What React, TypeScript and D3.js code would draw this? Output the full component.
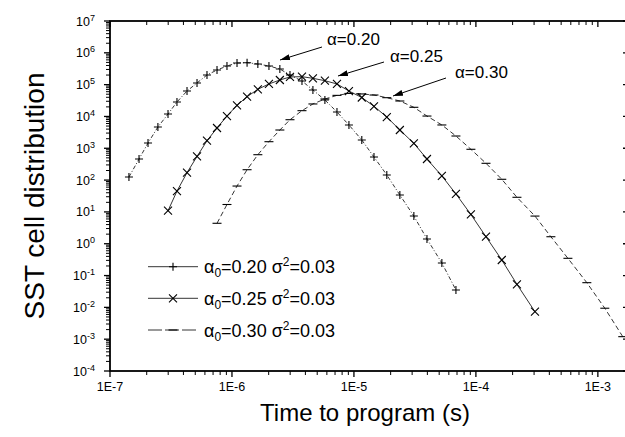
import React, { useEffect, useRef } from 'react';
import * as d3 from 'd3';

// time grid shared by the three simulated curves (s)
const timeGrid = [
  1.43e-7, 1.73e-7, 2.05e-7, 2.47e-7, 2.99e-7, 3.54e-7, 4.28e-7, 5.17e-7, 6.24e-7, 7.54e-7,
  9.10e-7, 1.10e-6, 1.33e-6, 1.63e-6, 2.01e-6, 2.47e-6, 2.99e-6, 3.75e-6, 4.61e-6, 5.78e-6,
  7.26e-6, 9.10e-6, 1.16e-5, 1.46e-5, 1.86e-5, 2.38e-5, 3.10e-5, 3.97e-5, 5.26e-5, 6.86e-5,
  9.10e-5, 1.21e-4, 1.63e-4, 2.17e-4, 3.05e-4, 4.12e-4, 5.68e-4, 8.12e-4, 1.14e-3, 1.60e-3
];

// alpha0 = 0.20 (starts at timeGrid[0])
const plusValues = [
  125, 460, 1465, 4670, 1.19e4, 2.85e4, 6.3e4, 1.13e5, 2.01e5, 2.88e5,
  3.85e5, 4.79e5, 4.9e5, 4.45e5, 3.85e5, 3.1e5, 2.0e5, 1.3e5, 6.8e4, 3.29e4,
  1.38e4, 5.4e3, 1.82e3, 532, 145, 34, 7.4, 1.41, 0.248, 0.035
];
// alpha0 = 0.25 (starts at timeGrid[4])
const crossValues = [
  10.9, 45, 171, 552, 1730, 4340, 1.03e4, 2.24e4, 4.18e4, 7.14e4,
  1.05e5, 1.4e5, 1.74e5, 1.78e5, 1.58e5, 1.33e5, 1.05e5, 6.3e4, 3.94e4, 2.09e4,
  9.6e3, 3750, 1430, 460, 135, 36.6, 8.3, 1.66, 0.308, 0.053, 0.0073
];
// alpha0 = 0.30 (starts at timeGrid[9])
const dashValues = [
  4.39, 17.1, 65, 212, 628, 1610, 3750, 7900, 1.52e4, 2.47e4,
  3.54e4, 4.6e4, 5.3e4, 5.1e4, 4.72e4, 3.89e4, 3.06e4, 1.94e4, 1.03e4, 5.4e3,
  2430, 929, 337, 106, 28.8, 7.4, 1.66, 0.348, 0.0597, 0.0094, 0.0012
];
const seriesStart = [0, 4, 9];

const alphaLabels = ['0.20', '0.25', '0.30'];
const sigmaLabel = '0.03';
const xExponents = [-7, -6, -5, -4, -3];
const yExponents = [-4, -3, -2, -1, 0, 1, 2, 3, 4, 5, 6, 7];

const W = 625, H = 437;
const P = { left: 110, right: 629, top: 21, bottom: 371 };
const FONT = "'Liberation Sans', Arial, Helvetica, sans-serif";

export default function App() {
  const ref = useRef<SVGSVGElement>(null);

  useEffect(() => {
    const svg = d3.select(ref.current);
    svg.selectAll('*').remove();

    const x = d3.scaleLog().domain([1e-7, 1.8e-3]).range([P.left, P.right]);
    const y = d3.scaleLog().domain([1e-4, 1e7]).range([P.bottom, P.top]);

    // arrow head
    svg.append('defs').append('marker')
      .attr('id', 'arrow')
      .attr('viewBox', '0 0 10 6')
      .attr('refX', 10).attr('refY', 3)
      .attr('markerWidth', 10).attr('markerHeight', 6)
      .attr('markerUnits', 'userSpaceOnUse')
      .attr('orient', 'auto')
      .append('path').attr('d', 'M0,0L10,3L0,6Z').attr('fill', '#000');

    // minor ticks
    const xMinor: number[] = [];
    xExponents.forEach(e => d3.range(2, 10).forEach(k => {
      const v = k * Math.pow(10, e);
      if (v <= 1.8e-3) xMinor.push(v);
    }));
    const yMinor: number[] = [];
    yExponents.slice(0, -1).forEach(e => d3.range(2, 10).forEach(k => yMinor.push(k * Math.pow(10, e))));
    const xMajor = xExponents.map(e => Math.pow(10, e));
    const yMajor = yExponents.map(e => Math.pow(10, e));

    const axes = svg.append('g').attr('stroke', '#000').attr('fill', 'none');
    const tick = (x1: number, y1: number, x2: number, y2: number, w = 1) =>
      axes.append('line').attr('x1', x1).attr('y1', y1).attr('x2', x2).attr('y2', y2).attr('stroke-width', w);

    // bottom (outward) and top (inward)
    xMajor.forEach(v => { tick(x(v), P.bottom, x(v), P.bottom + 6, 1.3); tick(x(v), P.top, x(v), P.top + 6, 1.3); });
    xMinor.forEach(v => { tick(x(v), P.bottom, x(v), P.bottom + 4); tick(x(v), P.top, x(v), P.top + 4); });
    // left (outward) and right (inward)
    yMajor.forEach(v => { tick(P.left, y(v), P.left - 6, y(v), 1.3); tick(P.right, y(v), P.right - 6, y(v), 1.3); });
    yMinor.forEach(v => { tick(P.left, y(v), P.left - 4, y(v)); tick(P.right, y(v), P.right - 4, y(v)); });

    axes.append('rect')
      .attr('x', P.left).attr('y', P.top)
      .attr('width', P.right - P.left).attr('height', P.bottom - P.top)
      .attr('stroke-width', 1.8);

    // tick labels
    const yl = svg.append('g').attr('font-family', FONT).attr('fill', '#000');
    yExponents.forEach(e => {
      const t = yl.append('text')
        .attr('x', 95).attr('y', y(Math.pow(10, e)) + 4.5)
        .attr('text-anchor', 'end').attr('font-size', 12.5);
      t.append('tspan').text('10');
      t.append('tspan').attr('font-size', 9).attr('dy', -5).text(String(e));
    });
    xExponents.forEach(e => {
      yl.append('text')
        .attr('x', x(Math.pow(10, e))).attr('y', 391)
        .attr('text-anchor', 'middle').attr('font-size', 12.5)
        .text(`1E${e}`);
    });

    // axis titles
    yl.append('text')
      .attr('x', 365).attr('y', 421)
      .attr('text-anchor', 'middle').attr('font-size', 24)
      .text('Time to program (s)');
    yl.append('text')
      .attr('transform', `translate(44,${(P.top + P.bottom) / 2}) rotate(-90)`)
      .attr('text-anchor', 'middle').attr('font-size', 28)
      .text('SST cell distribution');

    // series
    const allValues = [plusValues, crossValues, dashValues];
    const dashes = ['4,2,1,2', null, '5,3'];
    const symbols = ['M-4,0H4M0,-4V4', 'M-4,-4L4,4M-4,4L4,-4', 'M-4.5,0H4.5'];
    const line = d3.line<{ t: number; v: number }>().x(d => x(d.t)).y(d => y(d.v));

    allValues.forEach((vals, i) => {
      const pts = vals.map((v, j) => ({ t: timeGrid[seriesStart[i] + j], v }));
      const g = svg.append('g');
      g.append('path')
        .attr('d', line(pts))
        .attr('fill', 'none').attr('stroke', '#000').attr('stroke-width', 0.8)
        .attr('stroke-dasharray', dashes[i]);
      g.selectAll('.m').data(pts).enter().append('path')
        .attr('d', symbols[i])
        .attr('transform', d => `translate(${x(d.t)},${y(d.v)})`)
        .attr('fill', 'none').attr('stroke', '#000').attr('stroke-width', 1.1);
    });

    // legend
    const leg = svg.append('g').attr('font-family', FONT);
    [266.7, 298.3, 330].forEach((ly, i) => {
      leg.append('line')
        .attr('x1', 148).attr('x2', 198).attr('y1', ly).attr('y2', ly)
        .attr('stroke', '#000').attr('stroke-width', 0.8)
        .attr('stroke-dasharray', i === 2 ? '14,3' : null);
      leg.append('path')
        .attr('d', symbols[i])
        .attr('transform', `translate(173,${ly})`)
        .attr('fill', 'none').attr('stroke', '#000').attr('stroke-width', 1.1);
      const t = leg.append('text').attr('x', 204).attr('y', ly + 6.5).attr('font-size', 18);
      t.append('tspan').text('α');
      t.append('tspan').attr('font-size', 12).attr('dy', 4).text('0');
      t.append('tspan').attr('dy', -4).text(`=${alphaLabels[i]} σ`);
      t.append('tspan').attr('font-size', 12).attr('dy', -7).text('2');
      t.append('tspan').attr('dy', 7).text(`=${sigmaLabel}`);
    });

    // annotations
    const notes = [
      { text: 'α=0.20', tx: 327, ty: 45, x1: 322, y1: 47, x2: 280, y2: 60 },
      { text: 'α=0.25', tx: 390, ty: 62, x1: 384, y1: 62, x2: 338, y2: 76 },
      { text: 'α=0.30', tx: 455, ty: 78, x1: 446, y1: 78, x2: 393, y2: 96 }
    ];
    const ann = svg.append('g').attr('font-family', FONT);
    notes.forEach(n => {
      ann.append('text').attr('x', n.tx).attr('y', n.ty).attr('font-size', 17).text(n.text);
      ann.append('line')
        .attr('x1', n.x1).attr('y1', n.y1).attr('x2', n.x2).attr('y2', n.y2)
        .attr('stroke', '#000').attr('stroke-width', 1)
        .attr('marker-end', 'url(#arrow)');
    });
  }, []);

  return (
    <svg
      ref={ref}
      width={W}
      height={H}
      style={{ position: 'absolute', left: 0, top: 0, background: '#fff' }}
    />
  );
}
